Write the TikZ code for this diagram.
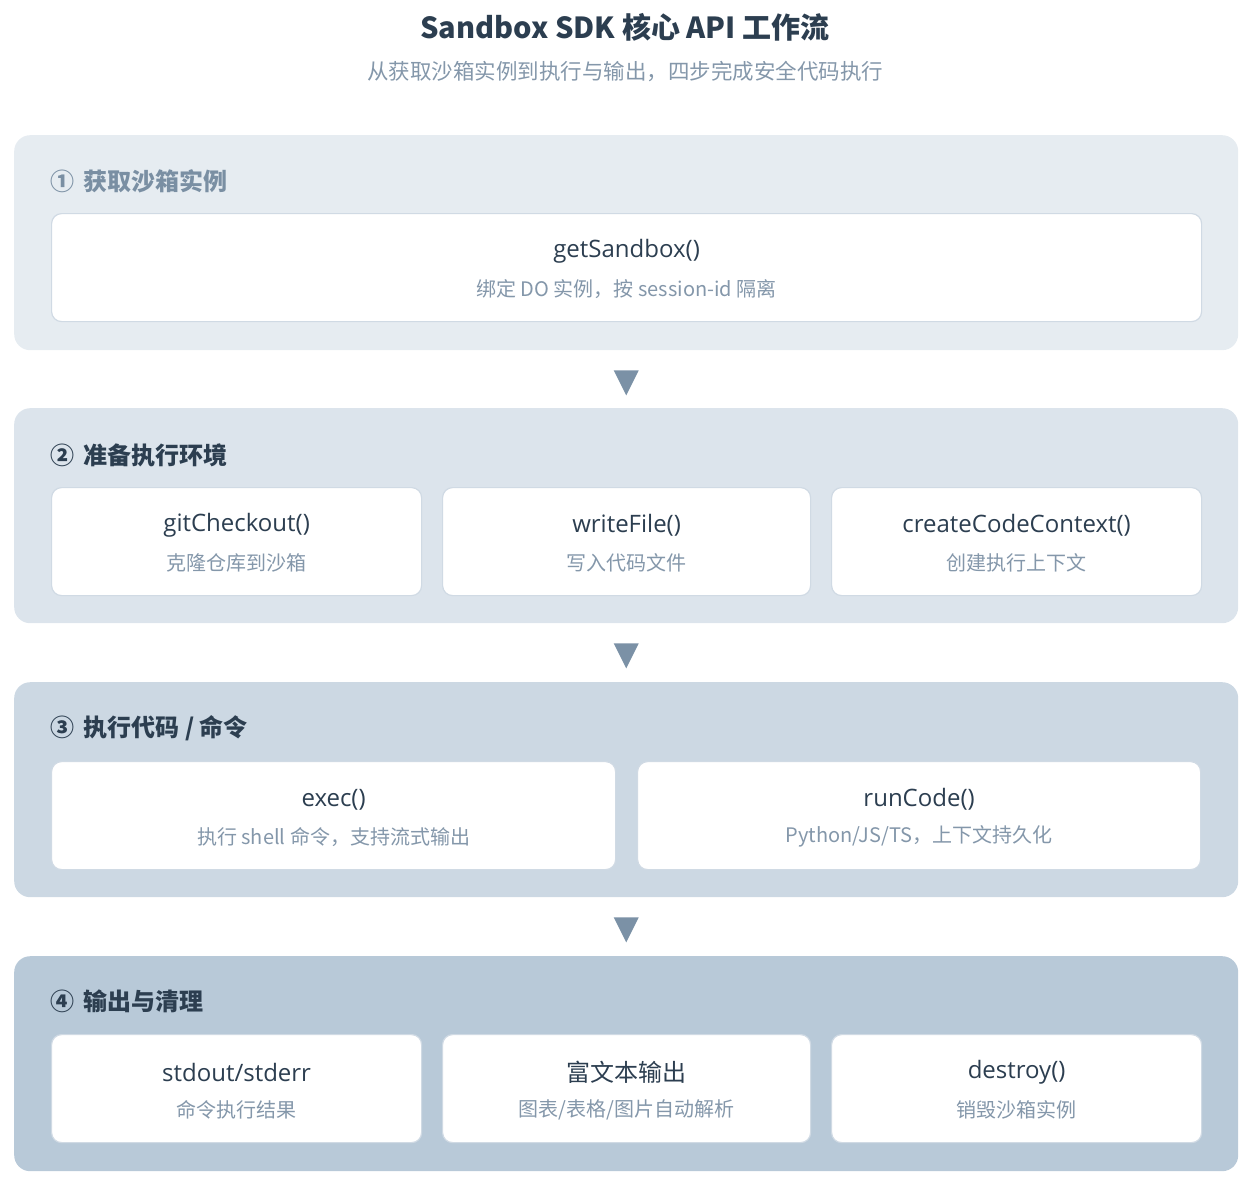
\documentclass[tikz,border=0pt]{standalone}
\usepackage{fontspec}
\setmainfont{Noto Sans CJK SC}
\newfontfamily\latinfont{Open Sans}
\usetikzlibrary{positioning,calc}
\definecolor{ink}{HTML}{2C3E50}
\definecolor{mute}{HTML}{8497AA}
\definecolor{headmute}{HTML}{7A8FA3}
\definecolor{secA}{HTML}{E6ECF1}
\definecolor{secB}{HTML}{DCE4EC}
\definecolor{secC}{HTML}{CCD8E3}
\definecolor{secD}{HTML}{B8C9D8}
\definecolor{cardline}{HTML}{D0DAE4}
\definecolor{tri}{HTML}{7B91A6}
\begin{document}
\begin{tikzpicture}[
      x=1pt, y=-1pt,
      section/.style={rounded corners=16pt, minimum width=1224pt, minimum height=215pt,
                      anchor=north west, inner sep=0pt},
      card/.style={draw=cardline, line width=1.2pt, fill=white, rounded corners=10pt,
                   minimum height=108pt, anchor=north west, inner sep=0pt},
      head/.style={anchor=west, font=\bfseries\fontsize{24}{29}\selectfont, text=ink, inner sep=0pt},
      ctitle/.style={font=\latinfont\fontsize{24}{29}\selectfont, text=ink, inner sep=0pt},
      csub/.style={font=\fontsize{20}{25}\selectfont, text=mute, inner sep=0pt}
    ]
      \useasboundingbox (0,0) rectangle (1250,1180);
      \node[font=\bfseries\fontsize{29}{35}\selectfont, text=ink] (title) at (625,27)
        {Sandbox SDK 核心 API 工作流};
      \node[font=\fontsize{21.5}{26}\selectfont, text=mute] (subtitle) at (625,72)
        {从获取沙箱实例到执行与输出，四步完成安全代码执行};
      % four stages
      \node[section, fill=secA] (s1) at (14,135) {};
      \node[section, fill=secB] (s2) at (14,408) {};
      \node[section, fill=secC] (s3) at (14,682) {};
      \node[section, fill=secD] (s4) at (14,956) {};
      \node[head, text=headmute] (h1) at (50,181) {①\hspace{4pt} 获取沙箱实例};
      \node[head] (h2) at (50,455) {②\hspace{4pt} 准备执行环境};
      \node[head] (h3) at (50,728) {③\hspace{4pt} 执行代码 / 命令};
      \node[head] (h4) at (50,1001) {④\hspace{4pt} 输出与清理};
      % api cards
      \foreach \nm/\xa/\xb/\yt/\ti/\su in {
          getsb/51/1201/213/{getSandbox()}/{绑定 DO 实例，按 session-id 隔离},
          gitco/51/421/487/{gitCheckout()}/{克隆仓库到沙箱},
          wfile/442/810/487/{writeFile()}/{写入代码文件},
          cctx/831/1201/487/{createCodeContext()}/{创建执行上下文},
          exec/51/615/761/{exec()}/{执行 shell 命令，支持流式输出},
          runc/637/1200/761/{runCode()}/{Python/JS/TS，上下文持久化},
          stdo/51/421/1034/{stdout/stderr}/{命令执行结果},
          rich/442/810/1034/{{\rmfamily 富文本输出}}/{图表/表格/图片自动解析},
          dstr/831/1201/1034/{destroy()}/{销毁沙箱实例}} {
        \pgfmathsetmacro{\w}{\xb-\xa}
        \node[card, minimum width=\w pt] (\nm) at (\xa,\yt) {};
        \node[ctitle] (\nm-t) at ($(\nm.center)+(0,-16)$) {\ti};
        \node[csub] (\nm-s) at ($(\nm.center)+(0,21)$) {\su};
      }
      % step markers
      \foreach \a in {1,2,3} {
        \fill[tri] ($(s\a.south)+(-12.5,20)$) -- ++(25,0) -- ++(-12.5,25) -- cycle;
      }
    \end{tikzpicture}
\end{document}
